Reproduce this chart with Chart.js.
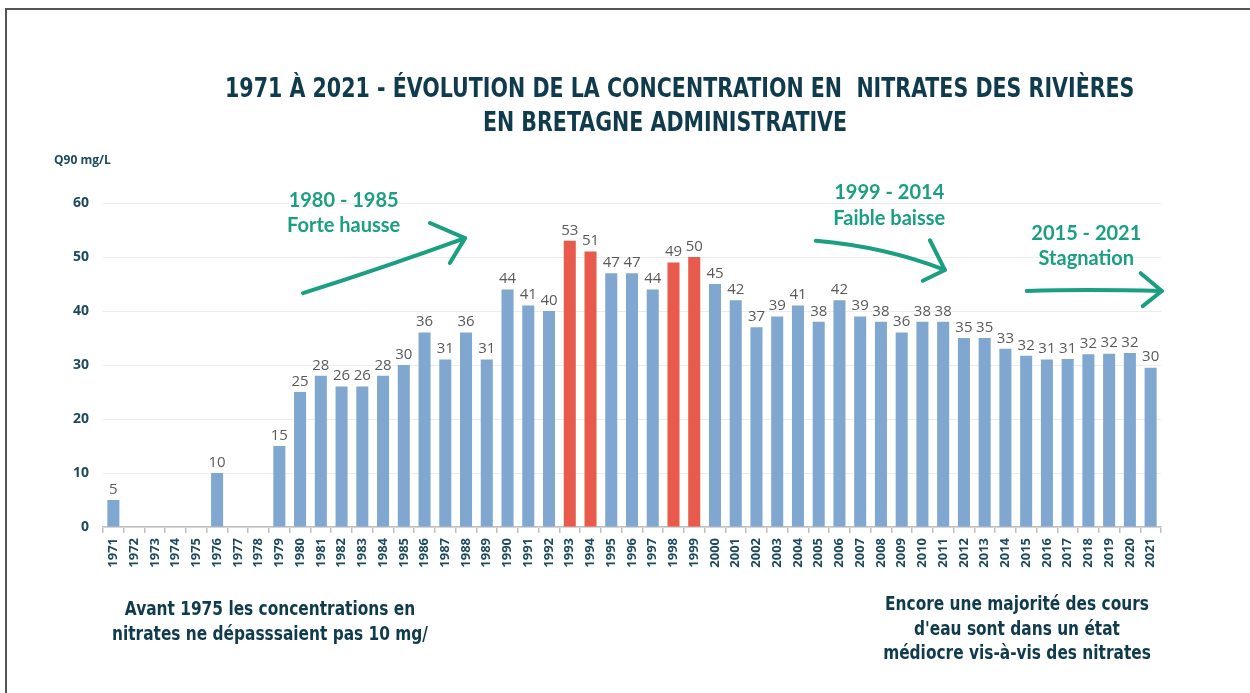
<!DOCTYPE html>
<html>
<head>
<meta charset="utf-8">
<script src="https://cdn.jsdelivr.net/npm/chart.js@4"></script>
<style>
  body { margin: 0; background: #fff; }
  #wrap { position: relative; width: 1250px; height: 693px; overflow: hidden; }
  #frame { position: absolute; left: 5px; top: 8px; right: -10px; bottom: -10px;
           border-top: 2px solid #555; border-left: 2px solid #555; }
  canvas { position: absolute; left: 0; top: 0; }
  .t { position: absolute; font-family: "Liberation Sans Narrow", "DejaVu Sans Condensed", sans-serif;
       font-weight: bold; color: #0f3b4d; text-align: center; white-space: nowrap; }
  #title { left: 165px; width: 1000px; top: 71px; font-size: 26px; line-height: 34px;
           transform: scaleX(0.88); transform-origin: 50% 50%; }
  #unit { position: absolute; left: 54px; top: 151px; font-family: "Open Sans", sans-serif; font-size: 12px;
          font-weight: bold; color: #1d4a5c; }
  #noteL { left: 70px; width: 400px; top: 596px; font-size: 19px; line-height: 25px;
           transform: scaleX(0.9); transform-origin: 50% 50%; }
  #noteR { left: 817px; width: 400px; top: 591px; font-size: 19px; line-height: 24.5px;
           transform: scaleX(0.9); transform-origin: 50% 50%; }
</style>
</head>
<body>
<div id="wrap">
  <div id="frame"></div>
  <canvas id="chart" width="1250" height="693"></canvas>
  <div id="title" class="t">1971 À 2021 - ÉVOLUTION DE LA CONCENTRATION EN&nbsp; NITRATES DES RIVIÈRES<br>EN BRETAGNE ADMINISTRATIVE</div>
  <div id="unit">Q90 mg/L</div>
  <div id="noteL" class="t">Avant 1975 les concentrations en<br>nitrates ne dépasssaient pas 10 mg/</div>
  <div id="noteR" class="t">Encore une majorité des cours<br>d'eau sont dans un état<br>médiocre vis-à-vis des nitrates</div>
</div>
<script>
const years = ['1971','1972','1973','1974','1975','1976','1977','1978','1979','1980',
  '1981','1982','1983','1984','1985','1986','1987','1988','1989','1990',
  '1991','1992','1993','1994','1995','1996','1997','1998','1999','2000',
  '2001','2002','2003','2004','2005','2006','2007','2008','2009','2010',
  '2011','2012','2013','2014','2015','2016','2017','2018','2019','2020','2021'];

// Q90 nitrate concentration (mg/L), null = no bar
const q90 = [5, null, null, null, null, 10, null, null, 15, 25,
  28, 26, 26, 28, 30, 36, 31, 36, 31, 44,
  41, 40, 53, 51, 47, 47, 44, 49, 50, 45,
  42, 37, 39, 41, 38, 42, 39, 38, 36, 38,
  38, 35, 35, 33, 31.7, 31.0, 31.1, 32.0, 32.1, 32.2, 29.5];

// years highlighted in red
const peakYears = ['1993', '1994', '1998', '1999'];

const yTicks = [0, 10, 20, 30, 40, 50, 60];

const annotations = [
  { lines: ['1980 - 1985', 'Forte hausse'], at: [11.1, 60.5], gap: 4.7 },
  { lines: ['1999 - 2014', 'Faible baisse'], at: [37.4, 61.9], gap: 4.7 },
  { lines: ['2015 - 2021', 'Stagnation'], at: [46.9, 54.4], gap: 4.7 }
];

// arrows in (category index, value) coordinates: from, control, to, two head ends
const arrows = [
  { from: [9.14, 43.3], ctrl: [13.0, 48.0], to: [16.95, 53.5], heads: [[15.26, 56.3], [16.22, 48.9]] },
  { from: [33.86, 53.0], ctrl: [37.2, 51.9], to: [40.08, 47.6], heads: [[39.36, 53.1], [39.02, 45.6]] },
  { from: [44.03, 43.7], ctrl: [46.8, 44.1], to: [50.54, 43.7], heads: [[49.52, 47.0], [49.62, 40.9]] }
];

const BLUE = '#7fa7cf';
const RED = '#e85a4b';
const GREEN = '#1a9f82';
const DARK = '#1d4a5c';

const valueLabels = {
  id: 'valueLabels',
  afterDatasetsDraw(chart) {
    const ctx = chart.ctx;
    const meta = chart.getDatasetMeta(0);
    ctx.save();
    ctx.font = '15px "Open Sans", sans-serif';
    ctx.fillStyle = '#5a5a5a';
    ctx.textAlign = 'center';
    ctx.textBaseline = 'bottom';
    meta.data.forEach((bar, i) => {
      if (q90[i] == null) return;
      ctx.fillText(String(Math.round(q90[i])), bar.x, bar.y - 3);
    });
    ctx.restore();
  }
};

const trendArrows = {
  id: 'trendArrows',
  afterDraw(chart) {
    const ctx = chart.ctx;
    const xs = chart.scales.x, ys = chart.scales.y;
    const p = (pt) => [xs.getPixelForValue(pt[0]), ys.getPixelForValue(pt[1])];
    ctx.save();
    ctx.strokeStyle = GREEN;
    ctx.lineWidth = 4;
    ctx.lineCap = 'round';
    ctx.lineJoin = 'round';
    arrows.forEach(a => {
      const f = p(a.from), c = p(a.ctrl), t = p(a.to);
      ctx.beginPath();
      ctx.moveTo(f[0], f[1]);
      ctx.quadraticCurveTo(c[0], c[1], t[0], t[1]);
      ctx.stroke();
      ctx.beginPath();
      a.heads.forEach(h => {
        const hp = p(h);
        ctx.moveTo(hp[0], hp[1]);
        ctx.lineTo(t[0], t[1]);
      });
      ctx.stroke();
    });
    ctx.fillStyle = GREEN;
    ctx.font = 'bold 20px Lato, sans-serif';
    ctx.textAlign = 'center';
    ctx.textBaseline = 'middle';
    annotations.forEach(a => {
      a.lines.forEach((line, k) => {
        const pt = p([a.at[0], a.at[1] - k * a.gap]);
        ctx.fillText(line, pt[0], pt[1]);
      });
    });
    ctx.restore();
  }
};

new Chart(document.getElementById('chart'), {
  type: 'bar',
  data: {
    labels: years,
    datasets: [{
      data: q90,
      backgroundColor: years.map(y => peakYears.includes(y) ? RED : BLUE),
      barPercentage: 0.58,
      categoryPercentage: 1
    }]
  },
  options: {
    responsive: false,
    devicePixelRatio: 1,
    animation: false,
    layout: { padding: { left: 43, right: 89, top: 203, bottom: 106 } },
    plugins: { legend: { display: false }, tooltip: { enabled: false } },
    scales: {
      x: {
        afterFit: (s) => { s.height = 60; },
        grid: { offset: true, drawOnChartArea: false, color: '#bfbfbf', tickLength: 6, lineWidth: 1.5 },
        border: { color: '#bfbfbf', width: 1.5 },
        ticks: {
          autoSkip: false, maxRotation: 90, minRotation: 90, padding: 5,
          color: DARK, font: { family: '"Open Sans", sans-serif', size: 13, weight: 'bold' }
        }
      },
      y: {
        min: 0, max: 60,
        afterFit: (s) => { s.width = 60; },
        afterBuildTicks: (s) => { s.ticks = yTicks.map(v => ({ value: v })); },
        grid: { color: '#ececec', drawTicks: false },
        border: { display: false },
        ticks: {
          padding: 14, color: DARK,
          font: { family: '"Open Sans", sans-serif', size: 14, weight: 'bold' }
        }
      }
    }
  },
  plugins: [valueLabels, trendArrows]
});
</script>
</body>
</html>
